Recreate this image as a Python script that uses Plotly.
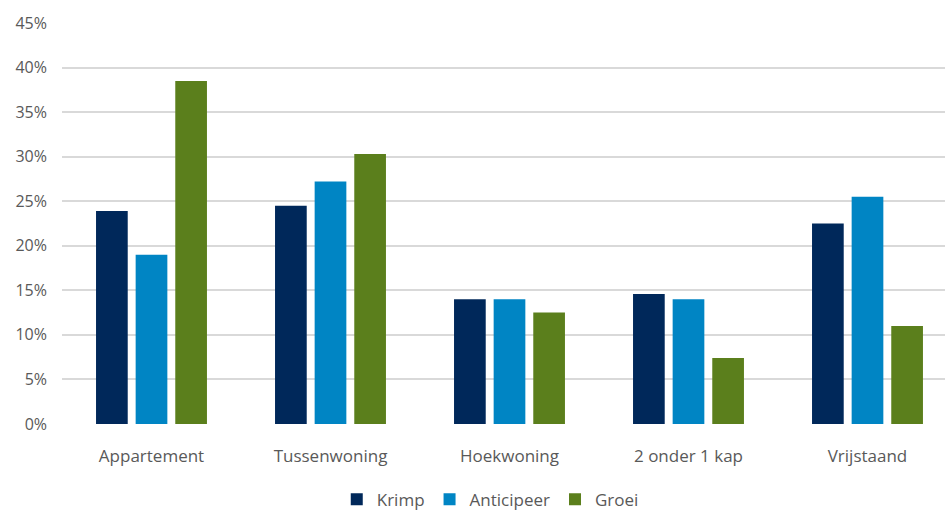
import plotly.graph_objects as go

# Woningtypen en aandeel per scenario
categories = ["Appartement", "Tussenwoning", "Hoekwoning", "2 onder 1 kap", "Vrijstaand"]
krimp = [0.239, 0.245, 0.140, 0.146, 0.225]
anticipeer = [0.190, 0.272, 0.140, 0.140, 0.255]
groei = [0.385, 0.303, 0.125, 0.074, 0.110]
y_ticks = [0, 0.05, 0.10, 0.15, 0.20, 0.25, 0.30, 0.35, 0.40, 0.45]
y_tick_labels = ["0%", "5%", "10%", "15%", "20%", "25%", "30%", "35%", "40%", "45%"]

series = [
    ("Krimp", krimp, "#00285A"),
    ("Anticipeer", anticipeer, "#0085C4"),
    ("Groei", groei, "#5B7F1C"),
]

font_family = "Open Sans, Lato, sans-serif"
text_color = "#595959"

fig = go.Figure()
for name, values, color in series:
    fig.add_trace(go.Bar(
        x=categories,
        y=values,
        name=name,
        marker=dict(color=color, line=dict(width=0)),
    ))

fig.update_layout(
    width=945,
    height=513,
    margin=dict(l=62, r=0, t=23, b=89, autoexpand=False),
    paper_bgcolor="white",
    plot_bgcolor="white",
    barmode="group",
    bargap=0.336,
    bargroupgap=0.2,
    font=dict(family=font_family, size=16, color=text_color),
    showlegend=True,
    legend=dict(
        orientation="h",
        x=0.485,
        xanchor="center",
        yref="container",
        y=0.026,
        yanchor="middle",
        font=dict(family=font_family, size=17, color=text_color),
        itemwidth=30,
        traceorder="normal",
    ),
    xaxis=dict(
        range=[-0.5, 4.433],
        showgrid=False,
        showline=False,
        zeroline=False,
        ticks="",
        ticklabelstandoff=20,
        tickfont=dict(size=17, color=text_color),
    ),
    yaxis=dict(
        range=[0, 0.45],
        tickvals=y_ticks,
        ticktext=y_tick_labels,
        showgrid=True,
        gridcolor="#D9D9D9",
        gridwidth=1.5,
        zeroline=False,
        showline=False,
        ticks="",
        ticklabelstandoff=14,
        tickfont=dict(size=16, color=text_color),
    ),
)

fig.write_html("out.html")
